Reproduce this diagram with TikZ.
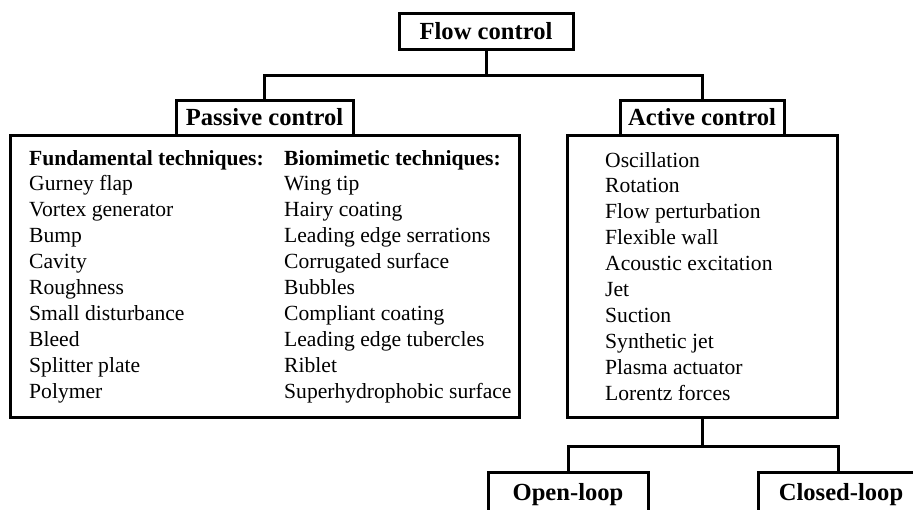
\documentclass[tikz,border=0pt]{standalone}
\usepackage{fontspec}
\setmainfont{Liberation Serif}
\usetikzlibrary{calc}

\tikzset{
  head/.style={draw, line width=3pt, inner sep=0pt, font=\fontsize{24.6}{28}\selectfont\bfseries},
  frame/.style={draw, line width=3pt, inner sep=0pt},
  item/.style={anchor=base west, inner sep=0pt, font=\fontsize{21.6}{26}\selectfont},
}

\begin{document}
\begin{tikzpicture}[x=1pt, y=-1pt]
      \clip (0,0) rectangle (913,509);

      \node (flow) at (486,31)  [head, minimum width=174pt, minimum height=36pt] {Flow control};
      \node (pbox) at (264.5,276)  [frame, minimum width=509pt, minimum height=282pt] {};
      \node (abox) at (702,276)  [frame, minimum width=270pt, minimum height=282pt] {};
      \node (pass) at (264.5,117.5)  [head, minimum width=177pt, minimum height=35pt] {Passive control};
      \node (act) at (702,117.5)  [head, minimum width=164pt, minimum height=35pt] {Active control};
      \node (open) at (568,495)  [head, minimum width=160pt, minimum height=46pt] {Open-loop};
      \node (closed) at (841,495)  [head, minimum width=166pt, minimum height=46pt] {Closed-loop};

      % the lists
      \foreach \t [count=\i from 0] in {\textbf{Fundamental techniques:}, Gurney flap,
          Vortex generator, Bump, Cavity, Roughness, Small disturbance, Bleed,
          Splitter plate, Polymer}
        \node (fund\i) at (29,165+25.9*\i) [item] {\t};
      \foreach \t [count=\i from 0] in {\textbf{Biomimetic techniques:}, Wing tip,
          Hairy coating, Leading edge serrations, Corrugated surface, Bubbles,
          Compliant coating, Leading edge tubercles, Riblet, Superhydrophobic surface}
        \node (bio\i) at (284,165+25.9*\i) [item] {\t};
      \foreach \t [count=\i from 0] in {Oscillation, Rotation, Flow perturbation,
          Flexible wall, Acoustic excitation, Jet, Suction, Synthetic jet,
          Plasma actuator, Lorentz forces}
        \node (act\i) at (605,167+25.9*\i) [item] {\t};

      \coordinate (top) at (486,75);
      \coordinate (low) at (702,446);
      \draw[line width=3pt] (flow) to (top) (pass.north) |- (top) -| (act.north);
      \draw[line width=3pt] (abox) to (low) (open.north) |- (low) -| ($(closed.north)+(-3,0)$);

    \end{tikzpicture}
\end{document}
